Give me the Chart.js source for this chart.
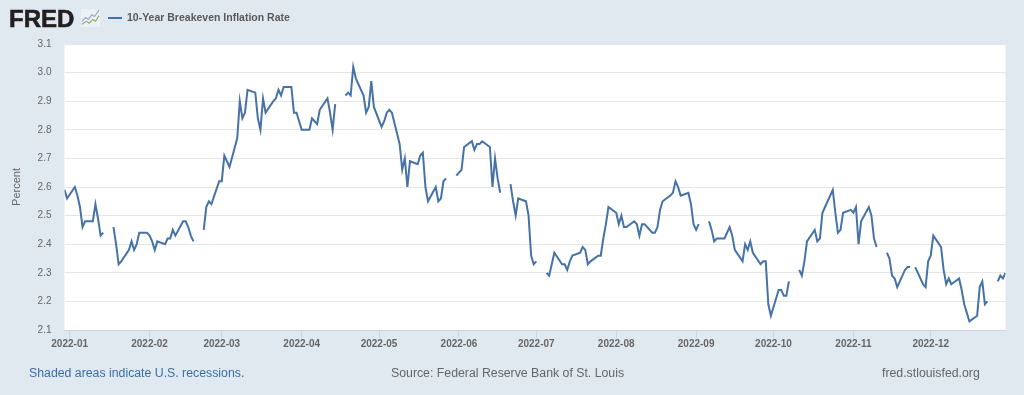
<!DOCTYPE html>
<html><head><meta charset="utf-8">
<script src="https://cdn.jsdelivr.net/npm/chart.js@4"></script>
<style>
html,body{margin:0;padding:0;background:#e1e9f0;width:1024px;height:395px;overflow:hidden;font-family:"Liberation Sans",Arial,sans-serif}
#wrap{position:relative;width:1024px;height:395px}
canvas{position:absolute;left:0;top:0}
.t{position:absolute;white-space:nowrap}
#logo{left:9px;top:7px;font:bold 24px/24px "Liberation Sans",Arial,sans-serif;color:#231f20;-webkit-text-stroke:.6px #231f20}
#icon{position:absolute;left:81px;top:9px}
#swatch{position:absolute;left:108px;top:17px;width:14px;height:2px;background:#4572a7}
#legend{left:127px;top:11px;font:bold 10.5px "Liberation Sans",Arial,sans-serif;color:#595959}
.foot{top:366px;font-size:12.3px;color:#666}
</style></head>
<body><div id="wrap">
<canvas id="c" width="1024" height="395"></canvas>
<div class="t" id="logo">FRED</div>
<svg id="icon" width="19" height="18" viewBox="0 0 21 19" preserveAspectRatio="none"><rect width="21" height="19" fill="#eef1f3"/><polyline points="1,13 5,9 8,11 12,6 15,8 20,1" fill="none" stroke="#8fa8c8" stroke-width="1.2"/><polyline points="1,16 6,13 9,15 13,11 16,13 20,7" fill="none" stroke="#8bab6b" stroke-width="1.2"/></svg>
<div id="swatch"></div>
<div class="t" id="legend">10-Year Breakeven Inflation Rate</div>
<div class="t foot" style="left:29px;color:#3c6da6">Shaded areas indicate U.S. recessions.</div>
<div class="t foot" style="left:391px">Source: Federal Reserve Bank of St. Louis</div>
<div class="t foot" style="left:882px">fred.stlouisfed.org</div>
</div>
<script>
const seriesName = '10-Year Breakeven Inflation Rate';
const yLabel = 'Percent';
const tickDates = ['2022-01-01','2022-02-01','2022-03-01','2022-04-01','2022-05-01','2022-06-01','2022-07-01','2022-08-01','2022-09-01','2022-10-01','2022-11-01','2022-12-01'];
const tickLabels = ['2022-01','2022-02','2022-03','2022-04','2022-05','2022-06','2022-07','2022-08','2022-09','2022-10','2022-11','2022-12'];
const yTicks = [2.1,2.2,2.3,2.4,2.5,2.6,2.7,2.8,2.9,3.0,3.1];
const dates = [
'2021-12-30','2021-12-31',
'2022-01-03','2022-01-04','2022-01-05','2022-01-06','2022-01-07','2022-01-10','2022-01-11','2022-01-12','2022-01-13','2022-01-14','2022-01-17','2022-01-18','2022-01-19','2022-01-20','2022-01-21','2022-01-24','2022-01-25','2022-01-26','2022-01-27','2022-01-28','2022-01-31',
'2022-02-01','2022-02-02','2022-02-03','2022-02-04','2022-02-07','2022-02-08','2022-02-09','2022-02-10','2022-02-11','2022-02-14','2022-02-15','2022-02-16','2022-02-17','2022-02-18','2022-02-21','2022-02-22','2022-02-23','2022-02-24','2022-02-25','2022-02-28',
'2022-03-01','2022-03-02','2022-03-03','2022-03-04','2022-03-07','2022-03-08','2022-03-09','2022-03-10','2022-03-11','2022-03-14','2022-03-15','2022-03-16','2022-03-17','2022-03-18','2022-03-21','2022-03-22','2022-03-23','2022-03-24','2022-03-25','2022-03-28','2022-03-29','2022-03-30','2022-03-31',
'2022-04-01','2022-04-04','2022-04-05','2022-04-06','2022-04-07','2022-04-08','2022-04-11','2022-04-12','2022-04-13','2022-04-14','2022-04-15','2022-04-18','2022-04-19','2022-04-20','2022-04-21','2022-04-22','2022-04-25','2022-04-26','2022-04-27','2022-04-28','2022-04-29',
'2022-05-02','2022-05-03','2022-05-04','2022-05-05','2022-05-06','2022-05-09','2022-05-10','2022-05-11','2022-05-12','2022-05-13','2022-05-16','2022-05-17','2022-05-18','2022-05-19','2022-05-20','2022-05-23','2022-05-24','2022-05-25','2022-05-26','2022-05-27','2022-05-30','2022-05-31',
'2022-06-01','2022-06-02','2022-06-03','2022-06-06','2022-06-07','2022-06-08','2022-06-09','2022-06-10','2022-06-13','2022-06-14','2022-06-15','2022-06-16','2022-06-17','2022-06-20','2022-06-21','2022-06-22','2022-06-23','2022-06-24','2022-06-27','2022-06-28','2022-06-29','2022-06-30',
'2022-07-01','2022-07-04','2022-07-05','2022-07-06','2022-07-07','2022-07-08','2022-07-11','2022-07-12','2022-07-13','2022-07-14','2022-07-15','2022-07-18','2022-07-19','2022-07-20','2022-07-21','2022-07-22','2022-07-25','2022-07-26','2022-07-27','2022-07-28','2022-07-29',
'2022-08-01','2022-08-02','2022-08-03','2022-08-04','2022-08-05','2022-08-08','2022-08-09','2022-08-10','2022-08-11','2022-08-12','2022-08-15','2022-08-16','2022-08-17','2022-08-18','2022-08-19','2022-08-22','2022-08-23','2022-08-24','2022-08-25','2022-08-26','2022-08-29','2022-08-30','2022-08-31',
'2022-09-01','2022-09-02','2022-09-05','2022-09-06','2022-09-07','2022-09-08','2022-09-09','2022-09-12','2022-09-13','2022-09-14','2022-09-15','2022-09-16','2022-09-19','2022-09-20','2022-09-21','2022-09-22','2022-09-23','2022-09-26','2022-09-27','2022-09-28','2022-09-29','2022-09-30',
'2022-10-03','2022-10-04','2022-10-05','2022-10-06','2022-10-07','2022-10-10','2022-10-11','2022-10-12','2022-10-13','2022-10-14','2022-10-17','2022-10-18','2022-10-19','2022-10-20','2022-10-21','2022-10-24','2022-10-25','2022-10-26','2022-10-27','2022-10-28','2022-10-31',
'2022-11-01','2022-11-02','2022-11-03','2022-11-04','2022-11-07','2022-11-08','2022-11-09','2022-11-10','2022-11-11','2022-11-14','2022-11-15','2022-11-16','2022-11-17','2022-11-18','2022-11-21','2022-11-22','2022-11-23','2022-11-24','2022-11-25','2022-11-28','2022-11-29','2022-11-30',
'2022-12-01','2022-12-02','2022-12-05','2022-12-06','2022-12-07','2022-12-08','2022-12-09','2022-12-12','2022-12-13','2022-12-14','2022-12-15','2022-12-16','2022-12-19','2022-12-20','2022-12-21','2022-12-22','2022-12-23','2022-12-26','2022-12-27','2022-12-28','2022-12-29','2022-12-30'
];
const values = [
2.59,2.56,
2.60,2.57,2.53,2.46,2.48,2.48,2.54,2.49,2.43,2.44,null,2.46,2.40,2.33,2.34,2.38,2.41,2.38,2.40,2.44,2.44,
2.43,2.41,2.38,2.41,2.40,2.42,2.42,2.45,2.43,2.48,2.48,2.46,2.43,2.41,null,2.45,2.53,2.55,2.54,2.62,
2.62,2.71,2.69,2.67,2.77,2.90,2.84,2.86,2.94,2.93,2.84,2.80,2.91,2.86,2.90,2.91,2.94,2.92,2.95,2.95,2.86,2.86,2.83,
2.80,2.80,2.84,2.83,2.82,2.87,2.91,2.86,2.80,2.89,null,2.92,2.93,2.92,3.02,2.98,2.92,2.86,2.88,2.97,2.88,
2.81,2.83,2.86,2.87,2.86,2.75,2.66,2.70,2.60,2.69,2.68,2.71,2.72,2.60,2.55,2.60,2.55,2.56,2.62,2.63,null,2.64,
2.65,2.66,2.74,2.76,2.73,2.75,2.75,2.76,2.74,2.60,2.70,2.63,2.58,null,2.61,2.55,2.50,2.56,2.55,2.50,2.36,2.33,
2.34,null,2.30,2.29,2.33,2.37,2.33,2.33,2.31,2.34,2.36,2.37,2.39,2.38,2.33,2.34,2.36,2.36,2.42,2.47,2.53,
2.51,2.47,2.50,2.46,2.46,2.48,2.47,2.43,2.47,2.47,2.44,2.44,2.46,2.52,2.55,2.57,2.58,2.62,2.60,2.57,2.58,2.54,2.47,
2.45,2.47,null,2.48,2.45,2.41,2.42,2.42,2.44,2.46,2.43,2.38,2.34,2.40,2.38,2.41,2.37,2.33,2.34,2.34,2.19,2.15,
2.24,2.24,2.22,2.22,2.27,null,2.31,2.29,2.34,2.41,2.45,2.41,2.42,2.51,2.53,2.59,2.51,2.44,2.45,2.51,2.52,
2.51,2.53,2.40,2.48,2.53,2.50,2.42,2.39,null,2.37,2.35,2.29,2.28,2.25,2.31,2.32,2.32,null,2.32,2.26,2.25,2.34,
2.36,2.43,2.39,2.31,2.26,2.28,2.26,2.28,2.24,2.19,2.16,2.13,2.15,2.25,2.27,2.19,2.20,null,2.27,2.29,2.28,2.30
];

const dayOf = s => (Date.parse(s + 'T00:00:00Z') - Date.UTC(2022,0,1)) / 864e5;
const points = dates.map((d,i) => ({x: dayOf(d), y: values[i]}));
const tickDays = tickDates.map(dayOf);

new Chart(document.getElementById('c'), {
  type: 'line',
  data: { datasets: [{ label: seriesName, data: points, borderColor:'#4572a7', borderWidth:2, pointRadius:0, tension:0, spanGaps:false, fill:false }] },
  options: {
    responsive:false, animation:false, events:[],
    layout:{ padding:{ left:0, right:18.5, top:44, bottom:0 } },
    plugins:{ legend:{display:false}, tooltip:{enabled:false} },
    scales:{
      x:{
        type:'linear', min:dayOf(dates[0]), max:dayOf(dates[dates.length-1]),
        afterFit(s){ s.height = 65; },
        afterBuildTicks(s){ s.ticks = tickDays.map(v => ({value:v})); },
        border:{ color:'#ccd6eb', width:1 },
        grid:{ drawOnChartArea:false, drawTicks:true, tickLength:8, tickColor:'#ccd6eb', tickWidth:1 },
        ticks:{ autoSkip:false, maxRotation:0, minRotation:0, padding:0, color:'#666',
          font:{ family:'"Liberation Sans",Arial,sans-serif', size:10, weight:'bold' },
          callback(v){ const i = tickDays.indexOf(v); return i >= 0 ? tickLabels[i] : ''; } }
      },
      y:{
        min:2.1, max:3.1,
        afterFit(s){ s.width = 64.5; },
        afterBuildTicks(s){ s.ticks = yTicks.map(v => ({value:v})); },
        border:{ display:false },
        grid:{ color:'#e6e6e6', lineWidth:1, drawTicks:false },
        title:{ display:true, text:yLabel, color:'#666', padding:{top:10,bottom:0},
          font:{ family:'"Liberation Sans",Arial,sans-serif', size:11, weight:'normal' } },
        ticks:{ padding:13, color:'#666',
          font:{ family:'"Liberation Sans",Arial,sans-serif', size:10 },
          callback(v){ return Number(v).toFixed(1); } }
      }
    }
  },
  plugins:[{ id:'bg', beforeDraw(ch){ const a = ch.chartArea, c = ch.ctx; c.save(); c.fillStyle='#fff'; c.fillRect(a.left,a.top,a.right-a.left,a.bottom-a.top); c.restore(); } }]
});
</script>
</body></html>
